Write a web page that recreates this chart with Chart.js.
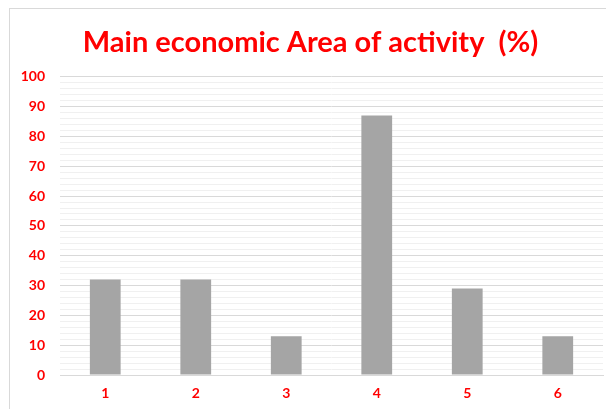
<!DOCTYPE html>
<html>
<head>
<meta charset="utf-8">
<script src="https://cdn.jsdelivr.net/npm/chart.js@4"></script>
<style>
  html, body { margin: 0; padding: 0; background: #fff; overflow: hidden; }
  #wrap {
    position: absolute; left: 9px; top: 8px;
    width: 621px; height: 401px;
    border-top: 1px solid #d9d9d9; border-left: 1px solid #d9d9d9;
  }
  #myChart { display: block; }
</style>
</head>
<body>
<div id="wrap"><canvas id="myChart" width="620" height="400"></canvas></div>
<script>
const chartTitle = 'Main economic Area of activity  (%)';
const categories = ['1', '2', '3', '4', '5', '6'];
const shares = [32, 32, 13, 87, 29, 13];
const yMax = 100;

const red = '#ff0000';
const fontFamily = 'Lato, "Liberation Sans", sans-serif';

const ctx = document.getElementById('myChart').getContext('2d');
const myChart = new Chart(ctx, {
    type: 'bar',
    data: {
        labels: categories,
        datasets: [{
            label: chartTitle,
            data: shares,
            backgroundColor: '#a5a5a5',
            barPercentage: 0.34,
            categoryPercentage: 1
        }]
    },
    options: {
        responsive: false,
        animation: false,
        // chart box runs past the right edge of the window, like the cropped original
        layout: { padding: { left: 8, right: 27, bottom: 7, top: 0 } },
        scales: {
            x: {
                grid: { display: false, drawTicks: false },
                border: { color: '#d9d9d9' },
                ticks: { color: red, font: { family: fontFamily, size: 14, weight: 'bold' }, padding: 10 },
                afterFit: (scale) => { scale.height = 27; }
            },
            y: {
                min: 0,
                max: yMax,
                border: { display: false },
                grid: {
                    drawTicks: false,
                    // major lines every 10, light minor lines every 2
                    color: (c) => (c.tick && c.tick.value % 10 === 0) ? '#d9d9d9' : '#f0f0f0'
                },
                ticks: {
                    stepSize: 2,
                    autoSkip: false,
                    color: red,
                    padding: 15,
                    font: { family: fontFamily, size: 14, weight: 'bold' },
                    callback: (v) => v % 10 === 0 ? v : ''
                },
                afterFit: (scale) => { scale.width = 42; }
            }
        },
        plugins: {
            legend: { display: false },
            tooltip: { enabled: false },
            title: {
                display: true,
                text: chartTitle,
                color: red,
                font: { family: fontFamily, size: 29, weight: 'bold' },
                padding: { top: 16, bottom: 17 }
            }
        }
    }
});
</script>
</body>
</html>
